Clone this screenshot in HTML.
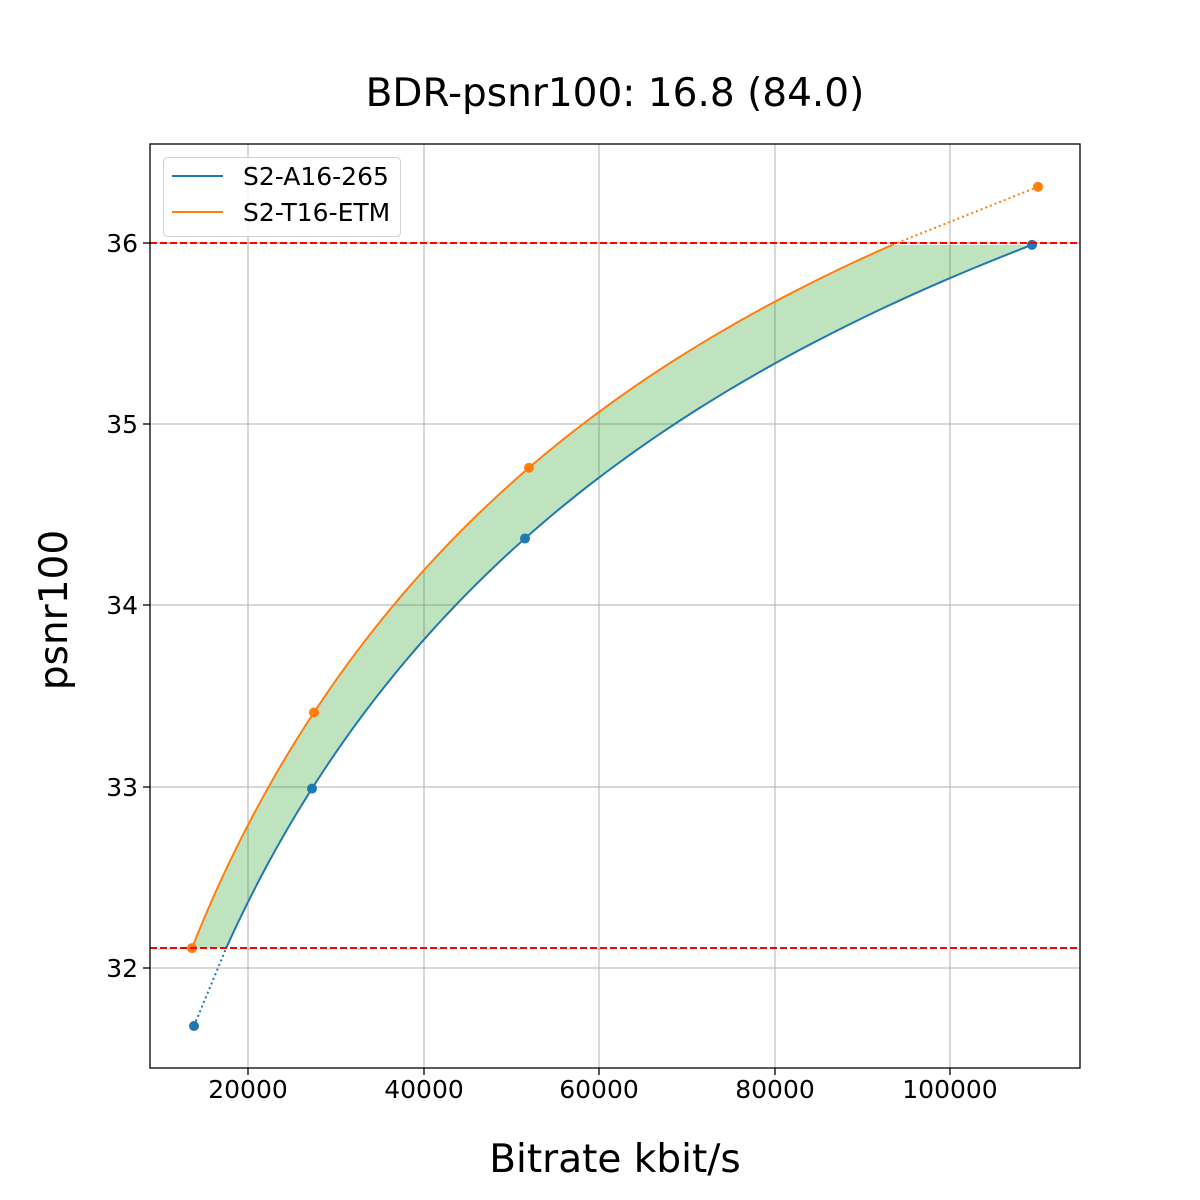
<!DOCTYPE html>
<html><head><meta charset="utf-8"><style>
html,body{margin:0;padding:0;background:#fff;}
svg{display:block;font-family:"DejaVu Sans","Liberation Sans",sans-serif;}
</style></head><body>
<svg id="s" width="1200" height="1200" viewBox="0 0 1200 1200" xmlns="http://www.w3.org/2000/svg">
<rect width="1200" height="1200" fill="#fff"/>
<g stroke="#b0b0b0" stroke-width="1">
<line x1="248" y1="144" x2="248" y2="1068"/><line x1="424" y1="144" x2="424" y2="1068"/>
<line x1="599" y1="144" x2="599" y2="1068"/><line x1="775" y1="144" x2="775" y2="1068"/>
<line x1="950" y1="144" x2="950" y2="1068"/>
<line x1="150" y1="243" x2="1080" y2="243"/><line x1="150" y1="424" x2="1080" y2="424"/>
<line x1="150" y1="605" x2="1080" y2="605"/><line x1="150" y1="787" x2="1080" y2="787"/>
<line x1="150" y1="968" x2="1080" y2="968"/>
</g>
<g id="plot"></g>
<line x1="150" y1="243" x2="1080" y2="243" stroke="#ff0000" stroke-width="2" stroke-dasharray="7,3"/>
<line x1="150" y1="948" x2="1080" y2="948" stroke="#ff0000" stroke-width="2" stroke-dasharray="7,3"/>
<rect x="150" y="144" width="930" height="924" fill="none" stroke="#000" stroke-width="1.3"/>
<g stroke="#000" stroke-width="1.3">
<line x1="248" y1="1068" x2="248" y2="1075"/><line x1="424" y1="1068" x2="424" y2="1075"/>
<line x1="599" y1="1068" x2="599" y2="1075"/><line x1="775" y1="1068" x2="775" y2="1075"/>
<line x1="950" y1="1068" x2="950" y2="1075"/>
<line x1="143" y1="243" x2="150" y2="243"/><line x1="143" y1="424" x2="150" y2="424"/>
<line x1="143" y1="605" x2="150" y2="605"/><line x1="143" y1="787" x2="150" y2="787"/>
<line x1="143" y1="968" x2="150" y2="968"/>
</g>
<g font-size="25" fill="#000" text-anchor="middle">
<text x="248" y="1098">20000</text><text x="424" y="1098">40000</text>
<text x="599" y="1098">60000</text><text x="775" y="1098">80000</text>
<text x="950" y="1098">100000</text>
</g>
<g font-size="25" fill="#000" text-anchor="end">
<text x="138" y="252">36</text><text x="138" y="433">35</text>
<text x="138" y="614">34</text><text x="138" y="796">33</text>
<text x="138" y="977">32</text>
</g>
<text x="615" y="106" font-size="39" text-anchor="middle">BDR-psnr100: 16.8 (84.0)</text>
<text x="615" y="1172" font-size="39" text-anchor="middle">Bitrate kbit/s</text>
<text transform="translate(67,610) rotate(-90)" font-size="39" text-anchor="middle">psnr100</text>
<rect x="163.5" y="157.5" width="237" height="79" rx="4" fill="#fff" fill-opacity="0.8" stroke="#d0d0d0"/>
<line x1="172" y1="176" x2="223" y2="176" stroke="#1f77b4" stroke-width="2"/>
<line x1="172" y1="212" x2="223" y2="212" stroke="#ff7f0e" stroke-width="2"/>
<text x="243" y="185" font-size="25">S2-A16-265</text>
<text x="243" y="221" font-size="25">S2-T16-ETM</text>
</svg>
<script>
(function(){
var X=function(r){return 248+(r-20000)*0.008775;};
var Y=function(p){return 968-(p-32)*181.25;};
var B=[[13846,31.68],[27293,32.99],[51567,34.37],[109345,35.99]];
var O=[[13618,32.11],[27521,33.41],[52023,34.76],[110028,36.31]];
function f(D,p){var s=0;for(var i=0;i<4;i++){var t=Math.log(D[i][0]);for(var j=0;j<4;j++)if(j!=i)t*=(p-D[j][1])/(D[i][1]-D[j][1]);s+=t;}return Math.exp(s);}
var lo=32.11,hi=35.99,N=120,pb=[],po=[];
for(var k=0;k<=N;k++){var p=lo+(hi-lo)*k/N;pb.push([X(f(B,p)),Y(p)]);po.push([X(f(O,p)),Y(p)]);}
var g=document.getElementById('plot'),h='';
var fill=po.map(function(q){return q.join(',')}).concat(pb.slice().reverse().map(function(q){return q.join(',')})).join(' ');
h+='<polygon points="'+fill+'" fill="#2ca02c" fill-opacity="0.3"/>';
h+='<polyline points="'+pb.map(function(q){return q.join(',')}).join(' ')+'" fill="none" stroke="#1f77b4" stroke-width="2"/>';
h+='<polyline points="'+po.map(function(q){return q.join(',')}).join(' ')+'" fill="none" stroke="#ff7f0e" stroke-width="2"/>';
h+='<line x1="'+X(B[0][0])+'" y1="'+Y(B[0][1])+'" x2="'+pb[0][0]+'" y2="'+pb[0][1]+'" stroke="#1f77b4" stroke-width="2" stroke-dasharray="2,3"/>';
h+='<line x1="'+po[N][0]+'" y1="'+po[N][1]+'" x2="'+X(O[3][0])+'" y2="'+Y(O[3][1])+'" stroke="#ff7f0e" stroke-width="2" stroke-dasharray="2,3"/>';
B.forEach(function(q){h+='<circle cx="'+X(q[0])+'" cy="'+Y(q[1])+'" r="5" fill="#1f77b4"/>';});
O.forEach(function(q){h+='<circle cx="'+X(q[0])+'" cy="'+Y(q[1])+'" r="5" fill="#ff7f0e"/>';});
g.innerHTML=h;
})();
</script>
</body></html>
